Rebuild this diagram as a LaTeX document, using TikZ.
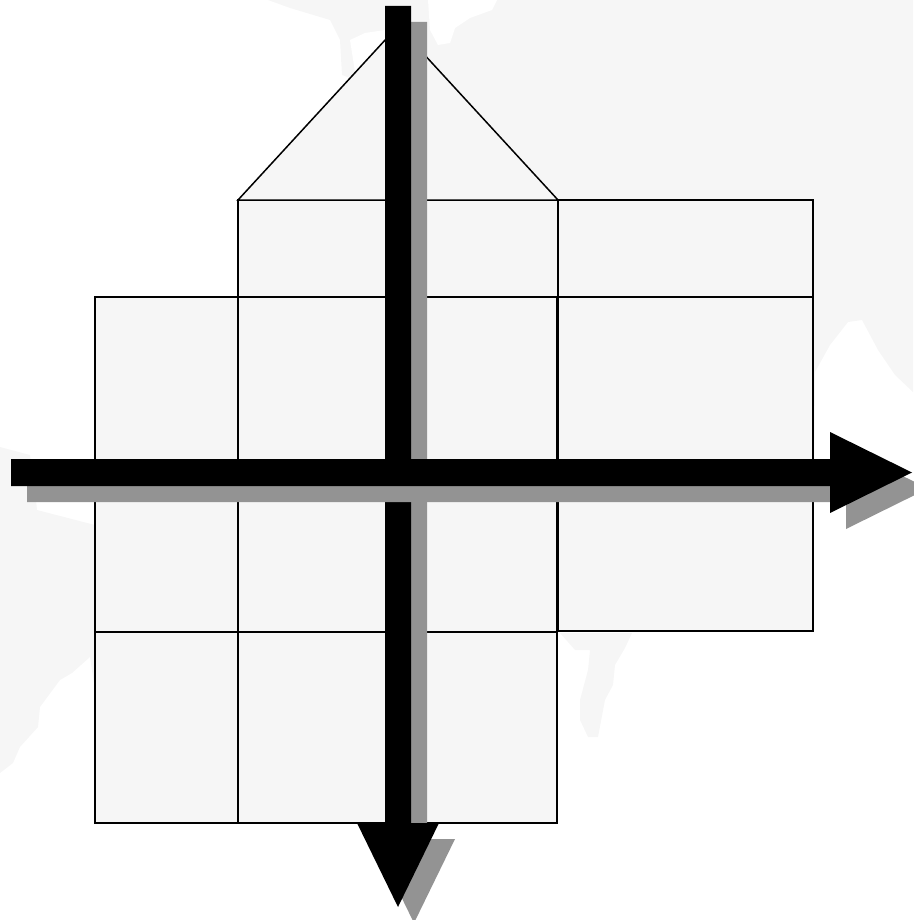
\documentclass[tikz,border=0pt]{standalone}
\definecolor{landgray}{RGB}{246,246,246}
\definecolor{shadowgray}{RGB}{147,147,147}
\tikzset{
  land/.style={fill=landgray, draw=none},
  sea/.style={fill=white, draw=none},
  cell/.style={fill=landgray, draw=black, line width=1.9pt},
  roof/.style={fill=landgray, draw=black, line width=1.5pt, line join=miter},
  arrowshadow/.style={fill=shadowgray, draw=none},
  arrowbody/.style={fill=black, draw=none}
}
\begin{document}
\begin{tikzpicture}[x=1pt,y=-1pt]
\useasboundingbox (0,0) rectangle (913,920);
% faint map background
\fill[land] (268,0) -- (913,0) -- (913,392) -- (895,375) -- (878,350) -- (862,320)
  -- (848,322) -- (830,345) -- (815,372) -- (813,630) -- (557,630) -- (557,822)
  -- (95,822) -- (95,690) -- (90,657) -- (72,673) -- (60,680) -- (40,707) -- (38,727)
  -- (20,747) -- (13,763) -- (0,773) -- (0,447) -- (30,455) -- (35,490) -- (37,510)
  -- (95,525) -- (95,297) -- (238,297) -- (238,200) -- (350,78) -- (342,75)
  -- (340,40) -- (330,20) -- (290,8) -- cycle;
\fill[land] (560,633) -- (632,633) -- (625,648) -- (615,665) -- (613,685) -- (605,700)
  -- (598,737) -- (588,737) -- (580,720) -- (580,700) -- (588,670) -- (590,650)
  -- (575,650) -- cycle;
\fill[sea] (350,40) -- (365,33) -- (385,30) -- (385,70) -- (370,75) -- (355,72) -- cycle;
\fill[sea] (428,0) -- (497,0) -- (492,10) -- (470,18) -- (455,28) -- (450,43) -- (438,45) -- (430,30) -- cycle;
% named corners
\coordinate (apex) at (398,26);
\coordinate (roofL) at (238,200);
\coordinate (roofR) at (558,200);
% boxes
\draw[cell] (238,200) rectangle (558,297);
\draw[cell] (558,200) rectangle (813,297);
\draw[cell] (95,297) rectangle (238,632);
\draw[cell] (238,297) rectangle (557,632);
\draw[cell] (558,297) rectangle (813,631);
\draw[cell] (95,632) rectangle (238,823);
\draw[cell] (238,632) rectangle (557,823);
% roof triangle
\draw[roof] (roofL) -- (apex) -- (roofR) -- cycle;
% vertical arrow
\coordinate (vtop) at (398,6);
\coordinate (vtip) at (398,907);
\fill[arrowshadow, shift={(16,16)}] (385,6) -- (411,6) -- (411,823) -- (439,823) -- (398,907) -- (357,823) -- (385,823) -- cycle;
\fill[arrowbody] (385,6) -- (411,6) -- (411,823) -- (439,823) -- (vtip) -- (357,823) -- (385,823) -- cycle;
% horizontal arrow
\coordinate (hleft) at (11,472.5);
\coordinate (htip) at (912,472.5);
\fill[arrowshadow, shift={(16,16)}] (11,459) -- (830,459) -- (830,432) -- (912,472.5) -- (830,513) -- (830,486) -- (11,486) -- cycle;
\fill[arrowbody] (11,459) -- (830,459) -- (830,432) -- (htip) -- (830,513) -- (830,486) -- (11,486) -- cycle;
\end{tikzpicture}
\end{document}
